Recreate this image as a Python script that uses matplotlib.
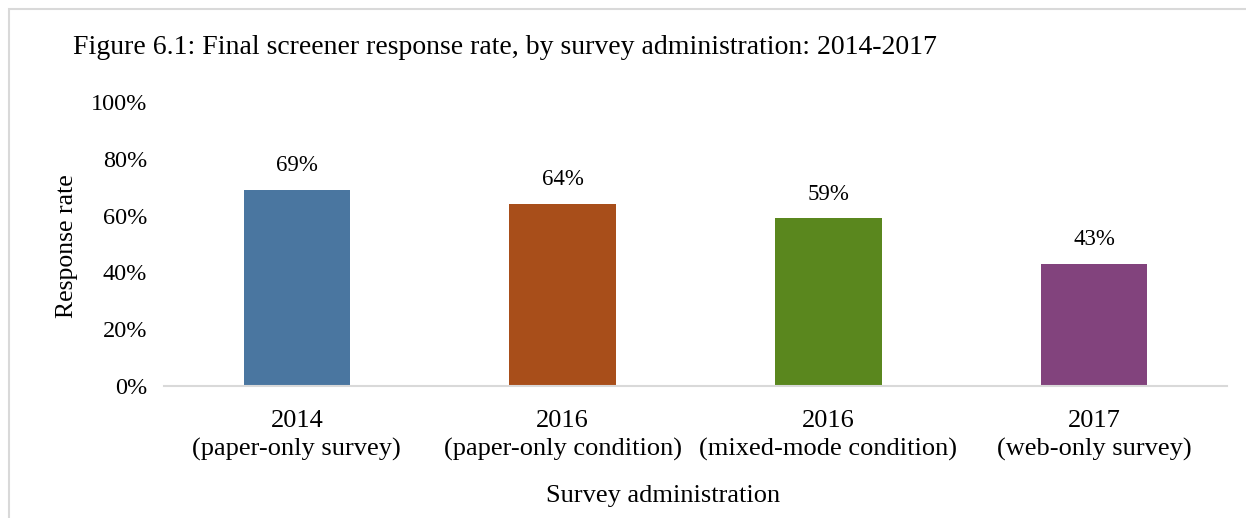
import matplotlib
matplotlib.use("Agg")
import matplotlib.pyplot as plt
from matplotlib.patches import Rectangle

# chart data
years = ["2014", "2016", "2016", "2017"]
modes = ["(paper-only survey)", "(paper-only condition)", "(mixed-mode condition)", "(web-only survey)"]
rates = [69, 64, 59, 43]
bar_colors = ["#4A76A0", "#A84E1A", "#5A871E", "#82437D"]
y_ticks = [0, 20, 40, 60, 80, 100]

plt.rcParams['font.family'] = ['Liberation Serif', 'DejaVu Serif']

fig = plt.figure(figsize=(12.46, 5.18), dpi=100)
W, H = 1246, 518

# light frame round the chart area (runs off right/bottom)
fig.patches.append(Rectangle((9 / W, -0.1), 1.2, 1 - 9 / H + 0.1, transform=fig.transFigure,
                             fill=False, edgecolor="#D9D9D9", linewidth=1.5))

ax = fig.add_axes([164 / W, 1 - 386 / H, (1227 - 164) / W, (386 - 102) / H])

labels = [f"{y}\n{m}" for y, m in zip(years, modes)]
x = range(len(rates))
bars = ax.bar(x, rates, width=0.40, color=bar_colors)

for i, v in enumerate(rates):
    ax.annotate(f"{v}%", (i, v), xytext=(0, 10), textcoords="offset points",
                ha="center", va="bottom", fontsize=16.5)

ax.set_xlim(-0.5, len(rates) - 0.5)
ax.set_ylim(0, 100)
ax.set_yticks(y_ticks)
ax.set_yticklabels([f"{t}%" for t in y_ticks], fontsize=17.5)
ax.set_xticks(list(x))
ax.set_xticklabels(labels, fontsize=19, linespacing=1.36)
ax.tick_params(axis="x", length=0, pad=17)
ax.tick_params(axis="y", length=0, pad=12)

for s in ["top", "right", "left"]:
    ax.spines[s].set_visible(False)
ax.spines["bottom"].set_color("#D9D9D9")
ax.spines["bottom"].set_linewidth(1.5)

ax.set_ylabel("Response rate", fontsize=18.5, labelpad=9)
ax.set_xlabel("Survey administration", fontsize=19, labelpad=17)
# the axis titles sit a little off centre in the original
ax.xaxis.label.set_x((663 - 164) / (1227 - 164))
ax.yaxis.label.set_y(1 - (246 - 102) / (386 - 102))

fig.text(73 / W, 1 - 47 / H, "Figure 6.1: Final screener response rate, by survey administration: 2014-2017",
         fontsize=20, ha="left", va="center")

fig.savefig("out.png", dpi=100)
